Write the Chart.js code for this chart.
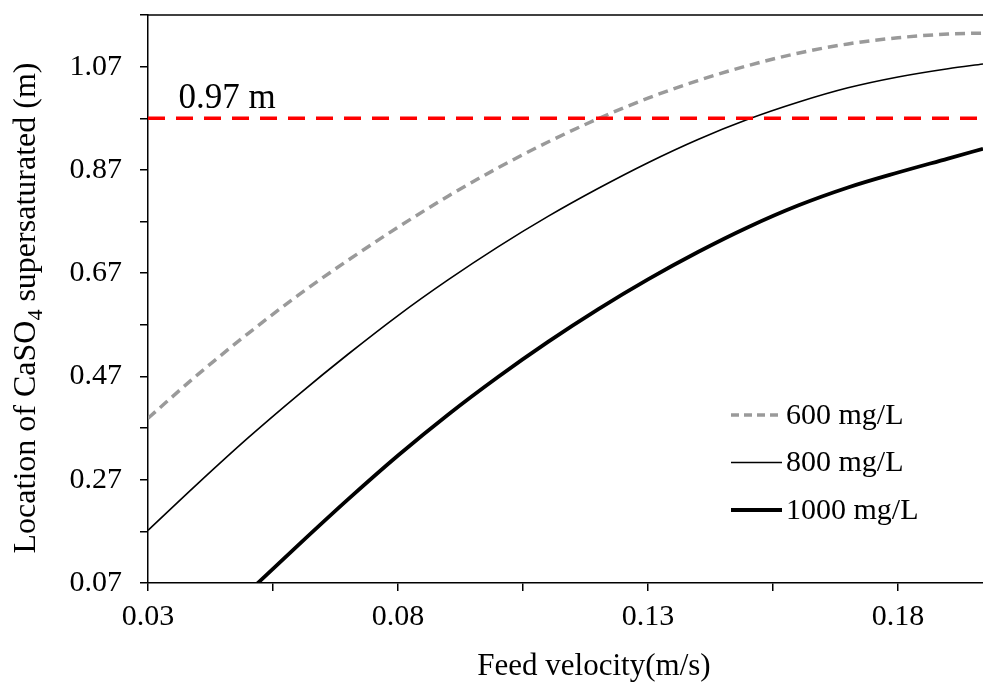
<!DOCTYPE html>
<html>
<head>
<meta charset="utf-8">
<script src="https://cdn.jsdelivr.net/npm/chart.js@4/dist/chart.umd.min.js"></script>
<style>
  html, body { margin: 0; padding: 0; background: #fff; }
  #wrap { width: 983px; height: 682px; }
</style>
</head>
<body>
<div id="wrap"><canvas id="chart" width="983" height="682"></canvas></div>
<script>
// feed velocity (m/s)
const velocity = [0.03, 0.04, 0.05, 0.06, 0.07, 0.08, 0.09, 0.10, 0.11, 0.12, 0.13, 0.14, 0.15, 0.16, 0.17, 0.18, 0.19, 0.197];
// location of CaSO4 supersaturated (m)
const loc600 = [0.389, 0.474, 0.553, 0.627, 0.695, 0.759, 0.819, 0.874, 0.924, 0.969, 1.009, 1.043, 1.072, 1.096, 1.114, 1.126, 1.133, 1.135];
const loc800 = [0.172, 0.263, 0.351, 0.434, 0.513, 0.588, 0.657, 0.721, 0.780, 0.834, 0.884, 0.929, 0.968, 1.001, 1.029, 1.050, 1.066, 1.075];
const loc1000 = [null, null, 0.052, 0.143, 0.232, 0.317, 0.396, 0.469, 0.537, 0.600, 0.658, 0.711, 0.759, 0.801, 0.836, 0.865, 0.892, 0.911];
const limitValue = 0.97;
const limitLabel = "0.97 m";

const seriesLabels = ["600 mg/L", "800 mg/L", "1000 mg/L"];
const xMajor = [0.03, 0.08, 0.13, 0.18];
const xMinor = [0.055, 0.105, 0.155];
const yMajor = [0.07, 0.27, 0.47, 0.67, 0.87, 1.07];
const yMinor = [0.17, 0.37, 0.57, 0.77, 0.97, 1.17];

const serif = "'Liberation Serif', 'Times New Roman', serif";

function toPoints(ys) {
  return velocity.map((x, i) => ({ x: x, y: ys[i] }));
}

function isMajor(list, v) {
  return list.some((m) => Math.abs(m - v) < 1e-6);
}

// axis titles, reference label and legend drawn on top
const decorPlugin = {
  id: "decor",
  afterDraw(chart) {
    const c = chart.ctx;
    const area = chart.chartArea;
    const xs = chart.scales.x;
    const ys = chart.scales.y;
    c.save();

    // top frame line
    c.strokeStyle = "#000";
    c.lineWidth = 1.5;
    c.beginPath();
    c.moveTo(area.left, area.top);
    c.lineTo(area.right, area.top);
    c.stroke();

    c.fillStyle = "#000";

    // label of the limit line
    c.font = "35px " + serif;
    c.textAlign = "left";
    c.textBaseline = "alphabetic";
    c.fillText(limitLabel, xs.getPixelForValue(0.0361), ys.getPixelForValue(limitValue) - 10);

    // x title
    c.font = "31px " + serif;
    c.textAlign = "center";
    c.fillText("Feed velocity(m/s)", 594, 675);

    // y title with subscript
    c.translate(35, 308);
    c.rotate(-Math.PI / 2);
    const big = "32px " + serif;
    const small = "22px " + serif;
    const parts = [
      { t: "Location of CaSO", f: big, dy: 0 },
      { t: "4", f: small, dy: 7 },
      { t: " supersaturated (m)", f: big, dy: 0 },
    ];
    let total = 0;
    parts.forEach((p) => { c.font = p.f; p.w = c.measureText(p.t).width; total += p.w; });
    let px = -total / 2;
    c.textAlign = "left";
    parts.forEach((p) => {
      c.font = p.f;
      c.fillText(p.t, px, p.dy);
      px += p.w;
    });
    c.restore();

    // legend
    c.save();
    c.font = "30px " + serif;
    c.textBaseline = "middle";
    c.fillStyle = "#000";
    const rows = chart.data.datasets.filter((d) => d.label);
    rows.forEach((d, i) => {
      const y = 415 + i * 47.5;
      c.strokeStyle = d.borderColor;
      c.lineWidth = d.borderWidth;
      c.setLineDash(d.legendDash || []);
      c.beginPath();
      c.moveTo(731, y);
      c.lineTo(782, y);
      c.stroke();
      c.setLineDash([]);
      c.fillText(d.label, 786, y + 1);
    });
    c.restore();
  },
};

new Chart(document.getElementById("chart"), {
  type: "line",
  data: {
    datasets: [
      {
        label: null,
        data: [{ x: velocity[0], y: limitValue }, { x: velocity[velocity.length - 1], y: limitValue }],
        borderColor: "#ff0000",
        borderWidth: 3.5,
        borderDash: [17, 11],
        pointRadius: 0,
      },
      {
        label: seriesLabels[0],
        data: toPoints(loc600),
        borderColor: "#9a9a9a",
        borderWidth: 3.5,
        borderDash: [10, 6],
        legendDash: [8, 5],
        pointRadius: 0,
        cubicInterpolationMode: "monotone",
      },
      {
        label: seriesLabels[1],
        data: toPoints(loc800),
        borderColor: "#000",
        borderWidth: 1.6,
        pointRadius: 0,
        cubicInterpolationMode: "monotone",
      },
      {
        label: seriesLabels[2],
        data: toPoints(loc1000),
        borderColor: "#000",
        borderWidth: 3.8,
        pointRadius: 0,
        cubicInterpolationMode: "monotone",
      },
    ],
  },
  options: {
    responsive: false,
    animation: false,
    devicePixelRatio: 1,
    layout: { padding: { top: 15, right: 0, left: 0, bottom: 0 } },
    plugins: {
      legend: { display: false },
      tooltip: { enabled: false },
    },
    scales: {
      x: {
        type: "linear",
        min: 0.03,
        max: 0.197,
        afterBuildTicks: (s) => {
          s.ticks = xMajor.concat(xMinor).sort((a, b) => a - b).map((v) => ({ value: v }));
        },
        afterFit: (s) => {
          s.height = 99;
          s.paddingLeft = 0;
          s.paddingRight = 0;
        },
        ticks: {
          autoSkip: false,
          maxRotation: 0,
          padding: 8,
          color: "#000",
          font: { family: serif, size: 30 },
          callback: (v) => (isMajor(xMajor, v) ? v.toFixed(2) : ""),
        },
        grid: { drawOnChartArea: false, drawTicks: true, tickLength: 8, color: "#000", lineWidth: 1.5 },
        border: { display: true, color: "#000", width: 1.5 },
      },
      y: {
        type: "linear",
        min: 0.07,
        max: 1.17,
        afterBuildTicks: (s) => {
          s.ticks = yMajor.concat(yMinor).sort((a, b) => a - b).map((v) => ({ value: v }));
        },
        afterFit: (s) => {
          s.width = 148;
          s.paddingTop = 0;
          s.paddingBottom = 0;
        },
        ticks: {
          autoSkip: false,
          padding: 18,
          color: "#000",
          font: { family: serif, size: 30 },
          callback: (v) => (isMajor(yMajor, v) ? v.toFixed(2) : ""),
        },
        grid: { drawOnChartArea: false, drawTicks: true, tickLength: 8, color: "#000", lineWidth: 1.5 },
        border: { display: true, color: "#000", width: 1.5 },
      },
    },
  },
  plugins: [decorPlugin],
});
</script>
</body>
</html>
